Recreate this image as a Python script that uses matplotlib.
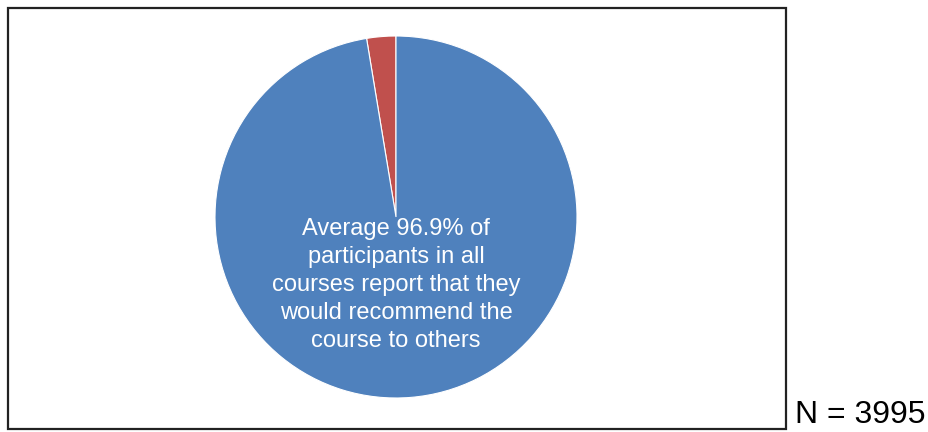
import matplotlib.pyplot as plt
from matplotlib.patches import Rectangle

labels = ["Would not recommend", "Would recommend"]
values = [2.6, 97.4]
colors = ["#C0504D", "#4F81BD"]
note = "Average 96.9% of\nparticipants in all\ncourses report that they\nwould recommend the\ncourse to others"
n_text = "N = 3995"

plt.rcParams["font.family"] = ["Liberation Sans", "DejaVu Sans"]

W, H = 929, 432
fig = plt.figure(figsize=(W / 100, H / 100), dpi=100)

# chart frame
fig.patches.append(Rectangle((8 / W, 3 / H), 778 / W, 421 / H, transform=fig.transFigure,
                             fill=False, edgecolor="#222222", linewidth=1.6))

cx, cy, r = 396, 217, 181
ax = fig.add_axes([(cx - r) / W, (H - cy - r) / H, 2 * r / W, 2 * r / H])
ax.pie(values, colors=colors, startangle=90, counterclock=True, radius=1,
       wedgeprops=dict(edgecolor="white", linewidth=0.8))
ax.set_xlim(-1, 1)
ax.set_ylim(-1, 1)
ax.set_aspect("equal")
ax.axis("off")

ax.text(0, -0.375, note, ha="center", va="center", color="white",
        fontsize=17, linespacing=1.36)

fig.text(795 / W, (H - 415) / H, n_text, ha="left", va="center", fontsize=23, color="black")

fig.savefig("out.png", dpi=100)
